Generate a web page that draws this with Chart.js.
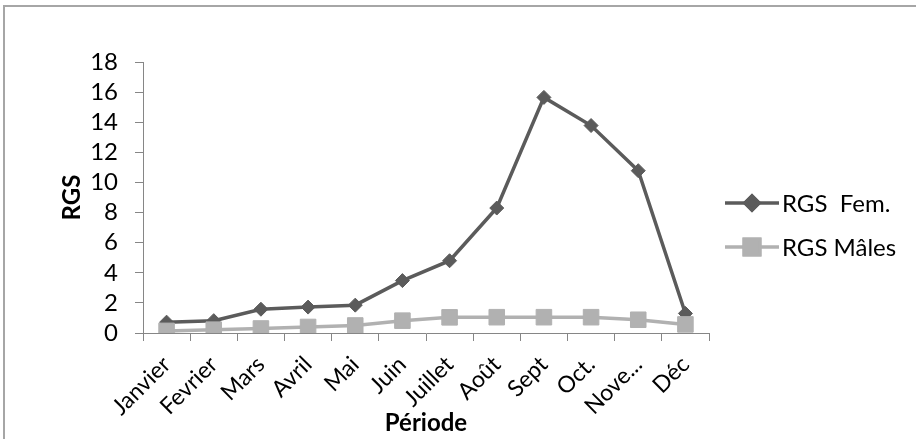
<!DOCTYPE html>
<html>
<head>
<meta charset="utf-8">
<script src="https://cdn.jsdelivr.net/npm/chart.js@4.4.1/dist/chart.umd.min.js"></script>
<style>
  html, body { margin: 0; padding: 0; background: #fff; overflow: hidden; }
  #wrap { position: relative; width: 916px; height: 439px; }
  #frame { position: absolute; left: 3px; top: 5px; width: 1000px; height: 1000px; border: 2px solid #a6a6a6; }
  canvas { position: absolute; left: 0; top: 0; }
</style>
</head>
<body>
<div id="wrap">
  <div id="frame"></div>
  <canvas id="rgsChart" width="916" height="439"></canvas>
</div>
<script>
const months = ['Janvier', 'Fevrier', 'Mars', 'Avril', 'Mai', 'Juin', 'Juillet', 'Août', 'Sept', 'Oct.', 'Nove...', 'Déc'];
const rgsFemelles = [0.72, 0.82, 1.58, 1.72, 1.85, 3.48, 4.8, 8.3, 15.65, 13.78, 10.78, 1.3];
const rgsMales = [0.14, 0.22, 0.3, 0.4, 0.5, 0.82, 1.04, 1.05, 1.05, 1.05, 0.88, 0.57];
const yTicks = [0, 2, 4, 6, 8, 10, 12, 14, 16, 18];

const FONT = 'Lato, "Liberation Sans", sans-serif';

// legend drawn like Excel: short line with the marker in the middle
const excelLegend = {
  id: 'excelLegend',
  afterDraw(chart) {
    const c = chart.ctx;
    const rows = [203, 247];
    chart.data.datasets.forEach((ds, i) => {
      const y = rows[i];
      c.save();
      c.strokeStyle = ds.borderColor;
      c.lineWidth = ds.borderWidth;
      c.beginPath();
      c.moveTo(725, y);
      c.lineTo(779, y);
      c.stroke();
      Chart.helpers.drawPoint(c, {
        pointStyle: ds.pointStyle,
        radius: ds.pointRadius,
        borderWidth: 1
      }, 752, y);
      c.fillStyle = ds.pointBackgroundColor;
      c.strokeStyle = ds.pointBorderColor;
      c.fill();
      c.stroke();
      c.fillStyle = '#000';
      c.font = '24px ' + FONT;
      c.textBaseline = 'middle';
      c.fillText(ds.label, 782, y + 1);
      c.restore();
    });
  }
};

const ctx = document.getElementById('rgsChart').getContext('2d');
const chart = new Chart(ctx, {
  type: 'line',
  data: {
    labels: months,
    datasets: [{
      label: 'RGS  Fem.',
      data: rgsFemelles,
      borderColor: '#5b5b5b',
      borderWidth: 3.5,
      pointStyle: 'rectRot',
      pointRadius: 7,
      pointBackgroundColor: '#5b5b5b',
      pointBorderColor: '#5b5b5b',
      pointBorderWidth: 1,
      tension: 0,
      order: 1
    }, {
      label: 'RGS Mâles',
      data: rgsMales,
      borderColor: '#b1b1b1',
      borderWidth: 3.5,
      pointStyle: 'rect',
      pointRadius: 11,
      pointBackgroundColor: '#b1b1b1',
      pointBorderColor: '#b1b1b1',
      pointBorderWidth: 1,
      tension: 0,
      order: 0
    }]
  },
  options: {
    responsive: false,
    animation: false,
    layout: { padding: { left: 55, right: 207, top: 62, bottom: 0 } },
    plugins: {
      legend: { display: false },
      tooltip: { enabled: false }
    },
    scales: {
      x: {
        offset: true,
        grid: { offset: true, drawOnChartArea: false, tickLength: 8, color: '#868686' },
        border: { color: '#868686', width: 1 },
        ticks: {
          color: '#000',
          font: { family: FONT, size: 23 },
          minRotation: 45,
          maxRotation: 45,
          padding: 10,
          autoSkip: false
        },
        title: {
          display: true,
          text: 'Période',
          color: '#000',
          font: { family: FONT, size: 24, weight: 'bold' },
          padding: { top: 0, bottom: 1 }
        },
        afterFit(scale) { scale.height = 106; }
      },
      y: {
        min: 0,
        max: 18,
        afterBuildTicks(scale) { scale.ticks = yTicks.map(v => ({ value: v })); },
        grid: { drawOnChartArea: false, tickLength: 8, color: '#868686' },
        border: { color: '#868686', width: 1 },
        ticks: {
          color: '#000',
          font: { family: FONT, size: 24 },
          padding: 17,
          autoSkip: false
        },
        title: {
          display: true,
          text: 'RGS',
          color: '#000',
          font: { family: FONT, size: 24, weight: 'bold' },
          padding: { top: 3, bottom: 0 }
        },
        afterFit(scale) { scale.width = 88; }
      }
    }
  },
  plugins: [excelLegend]
});
</script>
</body>
</html>
